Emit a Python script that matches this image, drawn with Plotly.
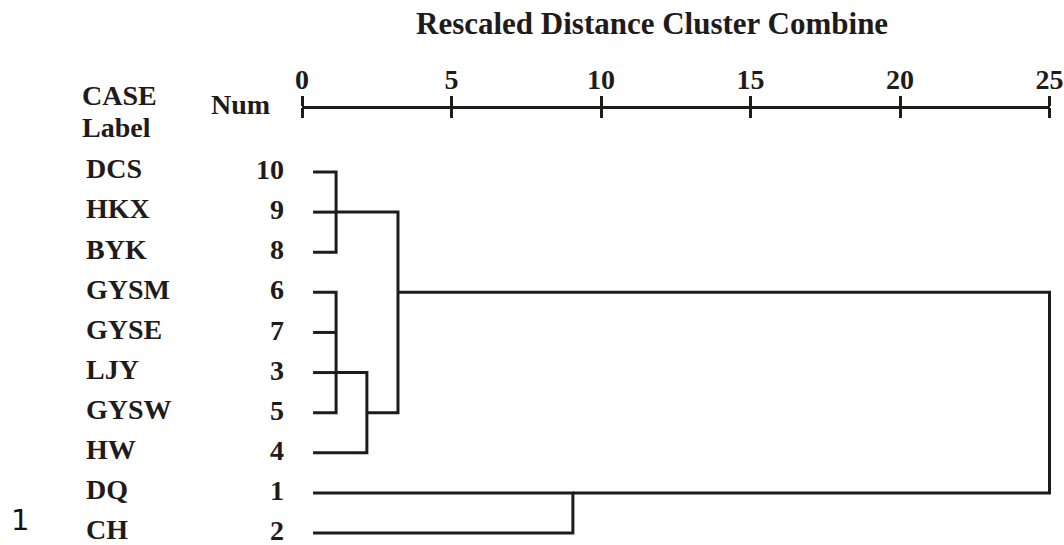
import plotly.graph_objects as go

# ---------------- data ----------------
case_labels = ["DCS", "HKX", "BYK", "GYSM", "GYSE", "LJY", "GYSW", "HW", "DQ", "CH"]
case_nums = [10, 9, 8, 6, 7, 3, 5, 4, 1, 2]
leaf_start = 0.37            # rescaled distance where leaf lines begin
# merges: (children node ids, rescaled distance, output row of new cluster)
# leaves are nodes 0..9 (row order), new clusters get ids 10, 11, ...
merge_children = [[0, 1, 2], [3, 4, 5, 6], [11, 7], [10, 12], [8, 9], [13, 14]]
merge_heights = [1.14, 1.14, 2.17, 3.21, 9.06, 25.0]
merge_rows = [1, 5, 6, 3, 8, None]
scale_ticks = [0, 5, 10, 15, 20, 25]
title_text = "Rescaled Distance Cluster Combine"

INK = "#1f1b1b"
SERIF = "Liberation Serif, Times New Roman, serif"

# ---------------- build dendrogram paths ----------------
node_row = {i: float(i) for i in range(len(case_labels))}
node_start = {i: leaf_start for i in range(len(case_labels))}
xs, ys = [], []
for k, (kids, h, out_row) in enumerate(zip(merge_children, merge_heights, merge_rows)):
    nid = len(case_labels) + k
    kids_sorted = sorted(kids, key=lambda c: node_row[c])
    top, bot = kids_sorted[0], kids_sorted[-1]
    xs += [node_start[top], h, h, node_start[bot], None]
    ys += [node_row[top], node_row[top], node_row[bot], node_row[bot], None]
    for c in kids_sorted[1:-1]:
        xs += [node_start[c], h, None]
        ys += [node_row[c], node_row[c], None]
    if out_row is not None:
        node_row[nid] = float(out_row)
        node_start[nid] = h

fig = go.Figure()
fig.add_trace(go.Scatter(x=xs, y=ys, mode="lines",
                         line=dict(color=INK, width=3),
                         hoverinfo="skip", showlegend=False))
# carriers for the scale axes
for ax in ("x2", "x3"):
    fig.add_trace(go.Scatter(x=[scale_ticks[0], scale_ticks[-1]], y=[0, 0], xaxis=ax, yaxis="y",
                             mode="markers", marker=dict(opacity=0),
                             hoverinfo="skip", showlegend=False))

# ---------------- geometry ----------------
W, H = 1064, 545
px0, px25 = 302.0, 1049.5           # pixel of distance 0 and 25
ppu = (px25 - px0) / 25.0
row0_px, row9_px = 172.0, 533.0
ppr = (row9_px - row0_px) / 9.0
axis_y_px = 107.0

xr = [-px0 / ppu, (W - px0) / ppu]
yr = [(H - row0_px) / ppr, -row0_px / ppr]
dom2 = [px0 / W, px25 / W]
pos2 = (H - axis_y_px) / H

annotations = []
lab_x = (84 - px0) / ppu
num_x = (286 - px0) / ppu
for r, (lab, num) in enumerate(zip(case_labels, case_nums)):
    annotations.append(dict(x=lab_x, y=r - 0.08, xref="x", yref="y", text=f"<b>{lab}</b>",
                            showarrow=False, xanchor="left", yanchor="middle",
                            font=dict(family=SERIF, size=28, color=INK)))
    annotations.append(dict(x=num_x, y=r - 0.06, xref="x", yref="y", text=f"<b>{num}</b>",
                            showarrow=False, xanchor="right", yanchor="middle",
                            font=dict(family=SERIF, size=28, color=INK)))

def head(text, xpx, ypx, anchor="left", size=28):
    return dict(x=(xpx - px0) / ppu, y=(ypx - row0_px) / ppr, xref="x", yref="y",
                text=f"<b>{text}</b>", showarrow=False, xanchor=anchor, yanchor="middle",
                font=dict(family=SERIF, size=size, color=INK))

annotations.append(head("CASE", 80, 95))
annotations.append(head("Label", 80, 127))
annotations.append(head("Num", 209, 104))
annotations.append(head(title_text, 652, 23, anchor="center", size=31))
annotations.append(dict(x=(20 - px0) / ppu, y=(520 - row0_px) / ppr, xref="x", yref="y",
                        text="1", showarrow=False, xanchor="center", yanchor="middle",
                        font=dict(family="DejaVu Sans", size=29, color="#111111")))

scale_common = dict(domain=dom2, range=[0, 25], anchor="free", position=pos2,
                    tickvals=scale_ticks, ticktext=[f"<b>{t}</b>" for t in scale_ticks],
                    tickfont=dict(family=SERIF, size=28, color=INK),
                    ticklen=10, tickwidth=3, tickcolor=INK, showgrid=False, zeroline=False,
                    fixedrange=True, automargin=False)

fig.update_layout(
    width=W, height=H, margin=dict(l=0, r=0, t=0, b=0, autoexpand=False),
    paper_bgcolor="white", plot_bgcolor="rgba(0,0,0,0)", showlegend=False,
    xaxis=dict(range=xr, domain=[0, 1], visible=False, fixedrange=True, automargin=False),
    yaxis=dict(range=yr, domain=[0, 1], visible=False, fixedrange=True, anchor="x",
               automargin=False),
    xaxis2=dict(side="top", showline=True, linecolor=INK, linewidth=3, ticks="outside",
                ticklabelstandoff=-4, **scale_common),
    xaxis3=dict(side="bottom", showline=False, ticks="outside", showticklabels=False,
                **scale_common),
    annotations=annotations,
)

fig.write_html(
    "out.html",
    config={"displayModeBar": False},
    post_script="document.body.style.margin='0';document.body.style.padding='0';"
                "document.body.style.overflow='hidden';"
                "document.documentElement.style.overflow='hidden';",
)
